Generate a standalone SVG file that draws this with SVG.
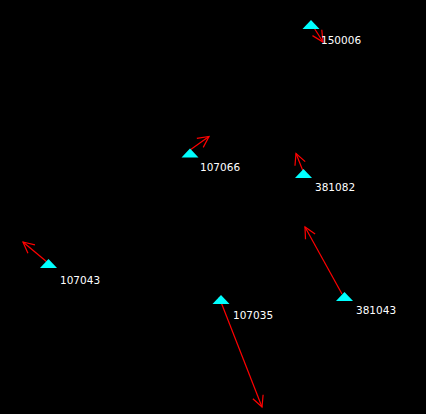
<svg xmlns="http://www.w3.org/2000/svg" width="426" height="414" viewBox="0 0 426 414">
<style>
.bg{fill:#000}
.st{fill:#00ffff}
.lb{fill:#ffffff;font-family:"DejaVu Sans",sans-serif;font-size:10.5px}
.vec{stroke:#ff0000;stroke-width:1.2;fill:none;marker-end:url(#ah)}
</style>
<defs>
<marker id="ah" markerUnits="userSpaceOnUse" markerWidth="14" markerHeight="14" viewBox="-12 -7 14 14" refX="0" refY="0" orient="auto">
<path d="M-11,-5.5 L0,0 L-11,5.5" stroke="#ff0000" stroke-width="1.2" fill="none"/>
</marker>
</defs>
<rect class="bg" x="0" y="0" width="426" height="414"/>
<g id="connectors">
<line class="vec" x1="311" y1="23" x2="323" y2="42"/>
<line class="vec" x1="190" y1="150" x2="209" y2="136.5"/>
<line class="vec" x1="303" y1="171" x2="296" y2="153.5"/>
<line class="vec" x1="47" y1="262" x2="23" y2="242"/>
<line class="vec" x1="219" y1="297" x2="262" y2="407"/>
<line class="vec" x1="342" y1="294" x2="305" y2="227"/>
</g>
<g id="s150006">
<polygon class="st" points="311,20 319.5,29 302.5,29"/>
<text class="lb" x="321" y="44">150006</text>
</g>
<g id="s107066">
<polygon class="st" points="190,148.5 198.5,157.5 181.5,157.5"/>
<text class="lb" x="200" y="171">107066</text>
</g>
<g id="s381082">
<polygon class="st" points="303.5,169 312,178 295,178"/>
<text class="lb" x="315" y="191">381082</text>
</g>
<g id="s107043">
<polygon class="st" points="48.5,259 57,268 40,268"/>
<text class="lb" x="60" y="283.5">107043</text>
</g>
<g id="s107035">
<polygon class="st" points="221,295 229.5,304 212.5,304"/>
<text class="lb" x="233" y="319">107035</text>
</g>
<g id="s381043">
<polygon class="st" points="344.5,292 353,301 336,301"/>
<text class="lb" x="356" y="314">381043</text>
</g>
</svg>
